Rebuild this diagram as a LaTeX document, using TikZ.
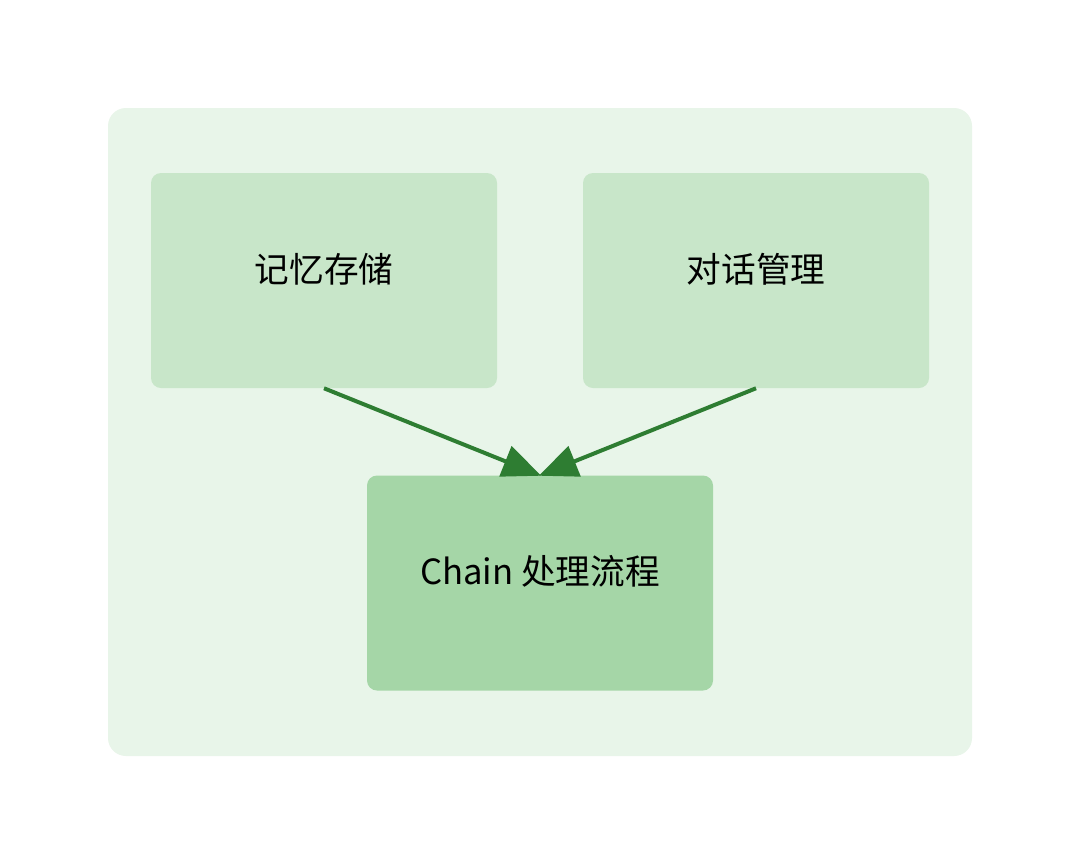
\documentclass[tikz,border=0pt]{standalone}
\usepackage{fontspec}
\newfontfamily\cjk{Noto Sans CJK SC}
\usetikzlibrary{arrows.meta}
\definecolor{outerbg}{HTML}{E8F5E9}
\definecolor{boxa}{HTML}{C8E6C9}
\definecolor{boxb}{HTML}{A5D6A7}
\definecolor{arrowc}{HTML}{2E7D32}
\tikzset{
  panel/.style={rectangle, rounded corners=7.5pt, minimum width=259.5pt, minimum height=161.25pt, inner sep=0pt},
  lbl/.style={font=\cjk\fontsize{26}{31}\selectfont, inner sep=0pt, text=black},
  conn/.style={draw=arrowc, line width=3pt, -{Triangle[length=29pt, width=24pt]}, shorten >=-1pt}
}
\begin{document}
\begin{tikzpicture}[x=0.75pt, y=-0.75pt]
\useasboundingbox (0,0) rectangle (1080,864);
\fill[white] (0,0) rectangle (1080,864);
\fill[outerbg, rounded corners=13.5pt] (108,108) rectangle (972,756);
\node[panel, fill=boxa] (mem) at (324,280.5) {};
\node[panel, fill=boxa] (dlg) at (756,280.5) {};
\node[panel, fill=boxb] (chain) at (540,583) {};
\node[lbl] (memt) at (324,269) {记忆存储};
\node[lbl] (dlgt) at (756,269) {对话管理};
\node[lbl] (chaint) at (540,571) {Chain 处理流程};
\draw[conn] (mem.south) -- (chain.north);
\draw[conn] (dlg.south) -- (chain.north);
\end{tikzpicture}
\end{document}
